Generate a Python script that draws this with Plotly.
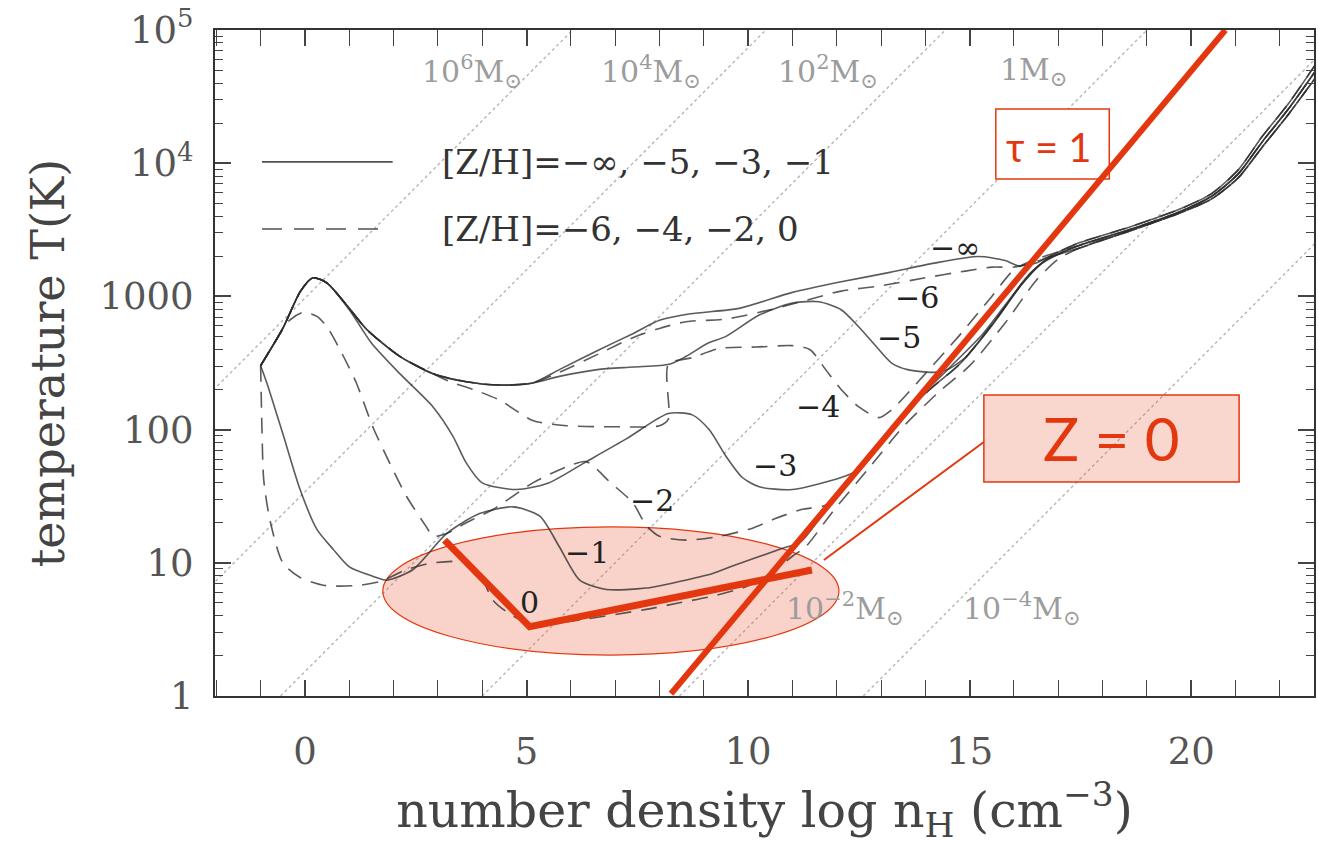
import math
import plotly.graph_objects as go

# ---------------- axes ----------------
X_RANGE = [-2.03, 22.77]
Y_RANGE_LOG = [0, 5]
X_TICKS = [0, 5, 10, 15, 20]
Y_TICKS = [1, 10, 100, 1000, 1e4, 1e5]
Y_TICKTEXT = ["1", "10", "100", "1000", "10<sup>4</sup>", "10<sup>5</sup>"]
Y_MINOR = [k * 10 ** e for e in range(0, 5) for k in range(2, 10)]

# ---------------- curve data (log nH, T[K]) ----------------
COMMON_N = [-1.0, -0.5, -0.1, 0.18, 0.5, 1.0, 1.4, 2.14, 2.89, 3.64, 4.39, 5.14]
COMMON_T = [302, 575, 1096, 1380, 1259, 813, 562, 355, 263, 229, 216, 224]

TAIL_N = [17.45, 18.6, 19.7, 20.45, 21.06, 21.6, 22.2, 22.8]
TAIL_A_T = [2512, 3311, 4467, 5888, 8913, 15850, 28180, 54950]
TAIL_B_T = [2399, 3162, 4266, 5623, 8318, 14450, 25700, 48980]
TAIL_C_T = [2291, 3090, 4169, 5370, 7762, 13180, 23440, 43650]

R1_N = [11.9, 12.7, 13.5, 14.3, 15.0, 15.8, 16.5, 17.0]
R1_T = [24.0, 50.1, 105, 191, 302, 631, 1318, 1905]
R2_N = [12.6, 13.3, 14.1, 14.8, 15.6, 16.3, 16.8]
R2_T = [55.0, 110, 200, 316, 676, 1413, 1950]

ZMINF_N = COMMON_N + [5.74, 6.64, 7.4, 8.0, 8.7, 9.8, 11.0, 12.1, 13.2, 14.2, 15.2, 15.8, 16.1, 16.5, 16.8] + TAIL_N
ZMINF_T = COMMON_T + [282, 398, 525, 661, 741, 813, 1072, 1288, 1514, 1778, 1995, 1862, 1698, 1778, 1995] + TAIL_A_T

ZM6_N = COMMON_N + [5.74, 6.64, 7.4, 8.0, 8.6, 9.5, 10.5, 11.3, 12.1, 13.0, 14.0, 14.9, 15.5, 16.0, 16.5, 16.8] + TAIL_N
ZM6_T = COMMON_T + [269, 372, 490, 575, 646, 676, 794, 933, 1096, 1202, 1380, 1549, 1660, 1660, 1820, 1995] + TAIL_A_T

ZM5_N = COMMON_N + [5.74, 6.6, 7.4, 8.22, 8.6, 9.1, 9.5, 10.25, 11.0, 11.6, 12.1, 12.5, 12.9, 13.24, 13.6,
                    14.2, 14.5, 14.9, 15.5, 16.2, 16.7] + TAIL_N
ZM5_T = COMMON_T + [251, 282, 295, 309, 355, 447, 501, 724, 891, 912, 794, 589, 417, 316, 282,
                    269, 282, 347, 603, 1259, 1862] + TAIL_B_T

ZM4_N = COMMON_N[:9] + [3.27, 3.8, 4.4, 5.14, 5.9, 7.0, 8.0, 8.2, 8.2, 8.74, 9.35, 10.2, 11.0, 11.4, 11.75,
                        12.1, 12.5, 12.95, 13.24, 14.0, 14.75, 15.5, 16.0, 16.5] + TAIL_N
ZM4_T = COMMON_T[:9] + [229, 200, 166, 117, 107, 105, 107, 120, 309, 347, 407, 417, 427, 398, 282,
                        200, 148, 123, 141, 263, 501, 1000, 1585, 1905] + TAIL_B_T

ZM3_N = [-1.0, -0.5, -0.1, 0.18, 0.5, 1.0, 1.5, 2.14, 2.89, 3.34, 3.64, 4.0, 4.77, 5.5, 6.35, 7.25, 8.2, 8.74,
         9.12, 9.5, 9.87, 10.25, 11.0, 12.1, 12.5, 13.0, 13.8, 14.5, 15.3, 16.0, 16.6] + TAIL_N
ZM3_T = [302, 575, 1096, 1380, 1259, 794, 447, 263, 148, 89.1, 56.2, 39.8, 35.5, 39.8, 57.5, 85.1, 132, 129,
         100, 63.1, 43.7, 37.2, 35.5, 43.7, 50.1, 83.2, 166, 282, 525, 1047, 1738] + TAIL_B_T

ZM2_N = [-1.0, -0.6, -0.35, -0.04, 0.27, 0.5, 0.79, 1.16, 1.53, 1.91, 2.29, 2.74, 2.89, 3.2, 3.64, 4.24, 5.14,
         5.9, 6.35, 6.9, 7.4, 7.7, 8.0, 8.6, 9.35, 10.1, 10.6, 11.2, 11.8] + R2_N + TAIL_N
ZM2_T = [302, 501, 661, 759, 708, 589, 398, 224, 105, 56.2, 31.6, 18.6, 15.8, 16.6, 20.0, 25.1, 39.8,
         52.5, 57.5, 39.8, 28.2, 19.1, 15.8, 14.8, 15.8, 18.2, 21.4, 25.1, 27.5] + R2_T + TAIL_C_T

ZM1_N = [-1.0, -0.86, -0.5, -0.11, 0.27, 0.64, 1.0, 1.53, 1.85, 2.44, 3.2, 3.94, 4.7, 5.3, 5.74, 6.2, 6.8,
         7.7, 8.45, 9.2, 9.6, 10.7, 11.2, 11.8] + R2_N + TAIL_N
ZM1_T = [302, 224, 93.3, 35.5, 17.8, 12.6, 9.33, 7.94, 7.41, 8.91, 16.6, 23.4, 26.3, 22.4, 13.2, 7.41, 6.31,
         6.46, 7.24, 8.32, 9.33, 12.6, 14.5, 26.3] + R2_T + TAIL_C_T

Z0_N = [-1.0, -0.97, -0.93, -0.79, -0.5, -0.11, 0.45, 1.2, 1.7, 2.3, 2.9, 3.7, 4.0, 4.24, 4.6, 5.0, 5.5, 6.2,
        7.7, 8.45, 9.2, 9.95, 10.5, 11.0, 11.3] + R1_N + TAIL_N
Z0_T = [302, 100, 41.7, 20.9, 10.0, 7.76, 6.76, 6.76, 7.24, 8.91, 10.0, 10.0, 7.59, 5.25, 4.17, 3.55, 3.47, 3.72,
        4.47, 5.01, 5.62, 6.61, 8.32, 11.2, 13.2] + R1_T + TAIL_C_T

CURVES = [
    ("-inf", ZMINF_N, ZMINF_T, "solid"),
    ("-6", ZM6_N, ZM6_T, "dash"),
    ("-5", ZM5_N, ZM5_T, "solid"),
    ("-4", ZM4_N, ZM4_T, "dash"),
    ("-3", ZM3_N, ZM3_T, "solid"),
    ("-2", ZM2_N, ZM2_T, "dash"),
    ("-1", ZM1_N, ZM1_T, "solid"),
    ("0", Z0_N, Z0_T, "dash"),
]

# curve labels: text, log nH, T
CURVE_LABELS = [("−∞", 14.66, 2340), ("−6", 13.81, 977), ("−5", 13.40, 490), ("−4", 11.58, 148),
                ("−3", 10.61, 53.7), ("−2", 7.82, 29.5), ("−1", 6.37, 12.0), ("0", 5.07, 5.0)]

# constant Jeans-mass lines: log nH where T = 1 K
JEANS_N0 = [-8.96, -4.6, -0.55, 4.0, 8.45, 12.6]
JEANS_LABELS = [("10<sup>6</sup>M<sub>⊙</sub>", 2.59, 48400), ("10<sup>4</sup>M<sub>⊙</sub>", 6.64, 48400),
                ("10<sup>2</sup>M<sub>⊙</sub>", 10.63, 48400), ("1M<sub>⊙</sub>", 15.63, 48400),
                ("10<sup>−2</sup>M<sub>⊙</sub>", 10.81, 4.57), ("10<sup>−4</sup>M<sub>⊙</sub>", 14.80, 4.57)]

# legend
LEGEND_TEXT = ["[Z/H]=−∞, −5, −3, −1", "[Z/H]=−6, −4, −2, 0"]
LEGEND_T = [10230, 3206]
LEGEND_X = [-0.97, 1.98, 3.04]

# red overlays
RED = "#E3380F"
TAU_LINE_N = [8.26, 20.77]
TAU_LINE_T = [1.04, 1e5]
V_LINE_N = [3.15, 5.07, 11.44]
V_LINE_T = [14.8, 3.31, 8.83]
ELLIPSE = dict(x0=1.757, x1=12.05, y0=2.03, y1=18.6)
TAU_BOX = dict(x0=15.59, x1=18.15, y0=7610, y1=25530)
TAU_TEXT = (16.80, 13180)
Z_BOX = dict(x0=15.32, x1=21.08, y0=40.4, y1=182)
Z_TEXT = (18.2, 86.5)
CONNECTOR = dict(x0=15.32, y0=80.7, x1=11.71, y1=10.5)

SERIF = "DejaVu Serif"
SANS = "Lato"

fig = go.Figure()

shapes = []
for n0 in JEANS_N0:
    shapes.append(dict(type="line", xref="x", yref="y", x0=n0, y0=1, x1=n0 + 15, y1=1e5,
                       line=dict(color="#b5b5b5", width=1.4, dash="dot"), layer="below"))
shapes.append(dict(type="circle", xref="x", yref="y", fillcolor="rgba(232,90,60,0.27)",
                   line=dict(color=RED, width=1.2), layer="below", **ELLIPSE))
shapes.append(dict(type="rect", xref="x", yref="y", fillcolor="white",
                   line=dict(color=RED, width=1.5), layer="below", **TAU_BOX))
shapes.append(dict(type="rect", xref="x", yref="y", fillcolor="rgba(232,90,60,0.25)",
                   line=dict(color=RED, width=1.5), layer="below", **Z_BOX))
shapes.append(dict(type="line", xref="x", yref="y", line=dict(color=RED, width=2), layer="below", **CONNECTOR))
# legend samples
shapes.append(dict(type="line", xref="x", yref="y", x0=LEGEND_X[0], x1=LEGEND_X[1], y0=LEGEND_T[0], y1=LEGEND_T[0],
                   line=dict(color="rgba(50,50,50,0.85)", width=1.6)))
shapes.append(dict(type="line", xref="x", yref="y", x0=LEGEND_X[0], x1=LEGEND_X[1] - 0.2, y0=LEGEND_T[1], y1=LEGEND_T[1],
                   line=dict(color="rgba(50,50,50,0.85)", width=1.6, dash="20px,12px")))

for name, xs, ts, style in CURVES:
    fig.add_trace(go.Scatter(
        x=xs, y=ts, mode="lines", name=name, showlegend=False, hoverinfo="skip",
        line=dict(color="rgba(45,45,45,0.78)", width=1.6, shape="spline", smoothing=0.7,
                  dash="solid" if style == "solid" else "16px,10px")))

fig.add_trace(go.Scatter(x=TAU_LINE_N, y=TAU_LINE_T, mode="lines", showlegend=False, hoverinfo="skip",
                         line=dict(color=RED, width=6)))
fig.add_trace(go.Scatter(x=V_LINE_N, y=V_LINE_T, mode="lines", showlegend=False, hoverinfo="skip",
                         line=dict(color=RED, width=7)))
# invisible trace carrying the minor-tick axis
fig.add_trace(go.Scatter(x=[X_RANGE[0]], y=[1], yaxis="y2", mode="markers", showlegend=False,
                         hoverinfo="skip", marker=dict(opacity=0)))

ann = []
for txt, x, t in CURVE_LABELS:
    ann.append(dict(x=x, y=math.log10(t), xref="x", yref="y", text=txt, showarrow=False,
                    font=dict(family=SERIF, size=30, color="#222")))
for txt, x, t in JEANS_LABELS:
    ann.append(dict(x=x, y=math.log10(t), xref="x", yref="y", text=txt, showarrow=False, xanchor="left",
                    font=dict(family=SERIF, size=30, color="#9c9c9c")))
for txt, t in zip(LEGEND_TEXT, LEGEND_T):
    ann.append(dict(x=LEGEND_X[2], y=math.log10(t), xref="x", yref="y", text=txt, showarrow=False,
                    xanchor="left", font=dict(family=SERIF, size=34, color="#333")))
ann.append(dict(x=TAU_TEXT[0], y=math.log10(TAU_TEXT[1]), xref="x", yref="y", text="τ = 1", showarrow=False,
                font=dict(family=SANS, size=40, color=RED)))
ann.append(dict(x=Z_TEXT[0], y=math.log10(Z_TEXT[1]), xref="x", yref="y", text="Z = 0", showarrow=False,
                font=dict(family=SANS, size=60, color=RED)))

axis_common = dict(showline=True, linewidth=2, linecolor="#333", mirror="allticks", ticks="inside",
                   tickcolor="#444", tickwidth=1.5, ticklen=16, showgrid=False, zeroline=False,
                   tickfont=dict(family=SERIF, size=37, color="#555"))

fig.update_layout(
    width=1318, height=846, margin=dict(l=215, r=2, t=30, b=150),
    paper_bgcolor="white", plot_bgcolor="white",
    shapes=shapes, annotations=ann,
    xaxis=dict(range=X_RANGE, tickmode="array", tickvals=X_TICKS, ticklabelstandoff=22,
               minor=dict(ticks="inside", ticklen=8, dtick=1, tick0=0, tickcolor="#444", tickwidth=1.3),
               title=dict(text="number density log n<sub>H</sub> (cm<sup>−3</sup>)", standoff=20,
                          font=dict(family=SERIF, size=49, color="#444")),
               **axis_common),
    yaxis=dict(type="log", range=Y_RANGE_LOG, tickmode="array", tickvals=Y_TICKS, ticktext=Y_TICKTEXT,
               ticklabelstandoff=12,
               title=dict(text="temperature T(K)", standoff=20,
                          font=dict(family=SERIF, size=46, color="#444")),
               **axis_common),
    yaxis2=dict(type="log", range=Y_RANGE_LOG, overlaying="y", side="left", anchor="x",
                tickmode="array", tickvals=Y_MINOR, ticks="inside", ticklen=8, tickwidth=1.3,
                tickcolor="#444", showticklabels=False, showline=True, linewidth=2, linecolor="#333",
                mirror="allticks", showgrid=False, zeroline=False),
)

fig.write_html("out.html")
